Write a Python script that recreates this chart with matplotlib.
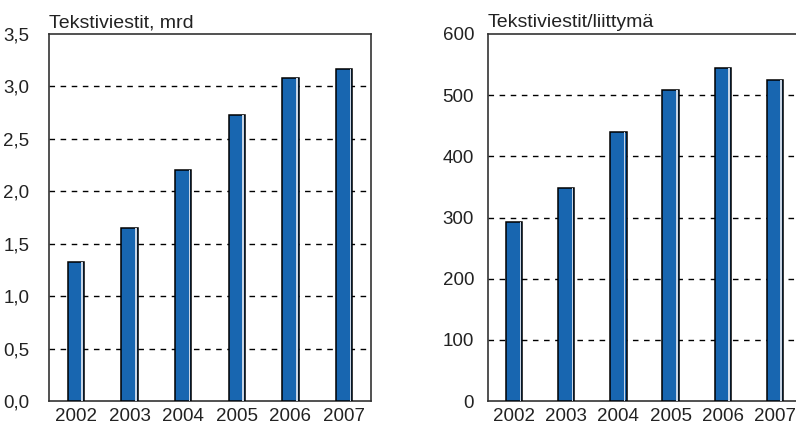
import matplotlib
matplotlib.use("Agg")
import matplotlib.pyplot as plt
import numpy as np

plt.rcParams['font.family'] = ['Liberation Sans', 'DejaVu Sans']

years = ["2002", "2003", "2004", "2005", "2006", "2007"]
sms_billion = [1.33, 1.65, 2.20, 2.73, 3.08, 3.17]
sms_per_sub = [293, 348, 440, 508, 545, 524]

BLUE = '#1866b0'
LIGHT = '#c9d6e6'
BAR_W = 0.31


def draw_panel(ax, values, ticks, labels, title, pad):
    x = np.arange(len(values))
    ax.bar(x, values, width=BAR_W, color=BLUE, edgecolor='black', linewidth=1.1, zorder=3)
    # light highlight on the right inner edge of each bar
    ax.bar(x + BAR_W / 2 - 0.035, values, width=0.03, color=LIGHT, linewidth=0, zorder=4)
    ax.set_xlim(-0.5, len(values) - 0.5)
    ax.set_ylim(ticks[0], ticks[-1])
    ax.set_yticks(ticks)
    ax.set_yticklabels(labels)
    ax.set_xticks(x)
    ax.set_xticklabels(years)
    ax.tick_params(axis='both', length=0, labelsize=13.5, colors='#222222')
    ax.tick_params(axis='y', pad=pad)
    ax.tick_params(axis='x', pad=5)
    for t in ticks[1:-1]:
        ax.axhline(t, color='black', linestyle=(0, (4, 4)), linewidth=1, zorder=2)
    for s in ax.spines.values():
        s.set_color('#333333')
        s.set_linewidth(1.2)
    ax.text(0, 1.008, title, transform=ax.transAxes, ha='left', va='bottom',
            fontsize=14, color='#222222')


fig = plt.figure(figsize=(7.96, 4.30), dpi=100)
ax1 = fig.add_axes([49 / 796, 1 - 401 / 430, 322 / 796, 367 / 430])
ax2 = fig.add_axes([488 / 796, 1 - 401 / 430, 313 / 796, 367 / 430])

left_ticks = [0, 0.5, 1.0, 1.5, 2.0, 2.5, 3.0, 3.5]
draw_panel(ax1, sms_billion, left_ticks, [f"{t:.1f}".replace('.', ',') for t in left_ticks],
           "Tekstiviestit, mrd", 14)
right_ticks = [0, 100, 200, 300, 400, 500, 600]
draw_panel(ax2, sms_per_sub, right_ticks, [str(t) for t in right_ticks],
           "Tekstiviestit/liittymä", 10)

fig.savefig("out.png", dpi=100)
